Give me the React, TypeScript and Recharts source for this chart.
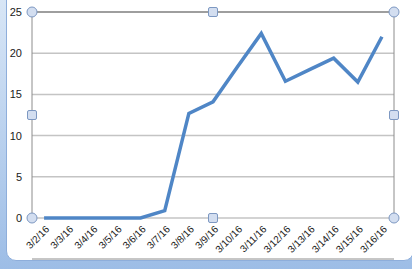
import { LineChart, Line, XAxis, YAxis, CartesianGrid, ReferenceLine, ReferenceDot } from 'recharts';

const dates = [
  '3/2/16', '3/3/16', '3/4/16', '3/5/16', '3/6/16', '3/7/16', '3/8/16', '3/9/16',
  '3/10/16', '3/11/16', '3/12/16', '3/13/16', '3/14/16', '3/15/16', '3/16/16',
];
const values = [0, 0, 0, 0, 0, 0.9, 12.7, 14.1, 18.3, 22.4, 16.6, 18.0, 19.4, 16.5, 22.0];
const yTicks = [0, 5, 10, 15, 20, 25];

// numeric x so the tick marks can sit between categories, like Excel
const data = dates.map((d, i) => ({ pos: i + 1, date: d, value: values[i] }));
const labelTicks = data.map((d) => d.pos);
const boundaryTicks = [0.5, ...data.map((d) => d.pos + 0.5)];
const xDomain = [0.5, dates.length + 0.5];

const handles = [
  { x: xDomain[0], y: 25, round: true },
  { x: (xDomain[0] + xDomain[1]) / 2, y: 25, round: false },
  { x: xDomain[1], y: 25, round: true },
  { x: xDomain[0], y: 12.5, round: false },
  { x: xDomain[1], y: 12.5, round: false },
  { x: xDomain[0], y: 0, round: true },
  { x: (xDomain[0] + xDomain[1]) / 2, y: 0, round: false },
  { x: xDomain[1], y: 0, round: true },
];

const font = '"Liberation Sans", Arial, sans-serif';

function DateTick({ x, y, payload }: any) {
  const d = data.find((r) => r.pos === payload.value);
  return (
    <text
      x={x + 4}
      y={y + 2}
      transform={`rotate(-45 ${x + 4} ${y + 2})`}
      textAnchor="end"
      dominantBaseline="middle"
      fontSize={10}
      fontFamily={font}
      fill="#1a1a1a"
    >
      {d ? d.date : ''}
    </text>
  );
}

function Handle(round: boolean) {
  return (props: any) => {
    const { cx, cy } = props;
    if (round) {
      return <circle cx={cx} cy={cy} r={5} fill="#d3def0" stroke="#7d98c2" strokeWidth={1} />;
    }
    return <rect x={cx - 4.5} y={cy - 4.5} width={9} height={9} rx={1.5} fill="#d3def0" stroke="#7d98c2" strokeWidth={1} />;
  };
}

export default function App() {
  return (
    <div
      style={{
        position: 'absolute',
        left: 0,
        top: 0,
        width: 412,
        height: 269,
        background: 'linear-gradient(#d8e6f6, #9dbde6)',
        overflow: 'hidden',
      }}
    >
      <div
        style={{
          position: 'absolute',
          left: 6,
          top: -10,
          width: 406,
          height: 269,
          background: '#fff',
          border: '1px solid #8eaedb',
          borderRadius: 10,
        }}
      />
      <div style={{ position: 'absolute', left: 0, top: 0 }}>
        <LineChart
          width={412}
          height={269}
          data={data}
          margin={{ top: 12, right: 18, left: 10, bottom: 6 }}
        >
          <CartesianGrid vertical={false} stroke="#c4c4c4" strokeWidth={1.5} />
          <XAxis
            xAxisId="marks"
            dataKey="pos"
            type="number"
            domain={xDomain}
            ticks={boundaryTicks}
            tick={false}
            tickSize={4}
            stroke="#8c8c8c"
            height={4}
            allowDataOverflow
          />
          <XAxis
            dataKey="pos"
            type="number"
            domain={xDomain}
            ticks={labelTicks}
            tick={<DateTick />}
            tickLine={false}
            axisLine={false}
            interval={0}
            height={41}
            allowDataOverflow
          />
          <YAxis
            domain={[0, 25]}
            ticks={yTicks}
            width={22}
            tickLine={false}
            stroke="#8c8c8c"
            tickMargin={4}
            tick={{ fontSize: 11, fontFamily: font, fill: '#1a1a1a' }}
          />
          <ReferenceLine y={25} stroke="#8c8c8c" strokeWidth={1.5} />
          <ReferenceLine x={xDomain[1]} stroke="#8c8c8c" />
          <Line
            type="linear"
            dataKey="value"
            stroke="#4f86c6"
            strokeWidth={3.5}
            dot={false}
            isAnimationActive={false}
          />
          {handles.map((h, i) => (
            <ReferenceDot
              key={i}
              x={h.x}
              y={h.y}
              ifOverflow="visible"
              shape={Handle(h.round)}
            />
          ))}
        </LineChart>
      </div>
    </div>
  );
}
